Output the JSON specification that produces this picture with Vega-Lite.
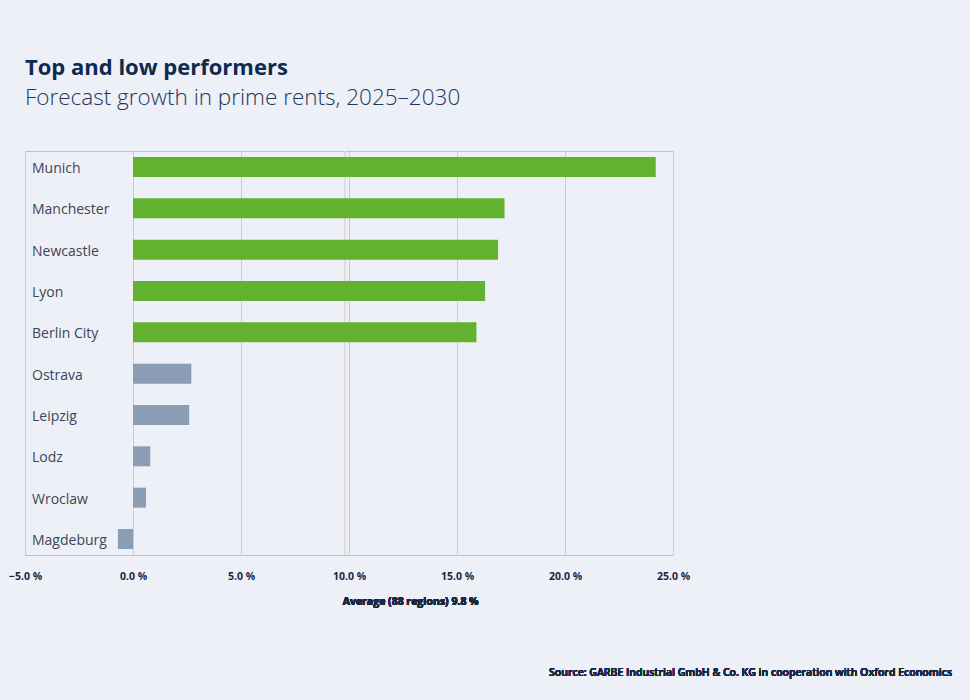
{
  "$schema": "https://vega.github.io/schema/vega-lite/v6.json",
  "width": 648,
  "height": 404,
  "autosize": {"type": "none"},
  "padding": {"left": 25, "top": 151, "right": 297, "bottom": 145},
  "background": "#edf0f7",
  "title": {
    "text": "Top and low performers",
    "subtitle": "Forecast growth in prime rents, 2025–2030",
    "anchor": "start",
    "frame": "group",
    "font": "Open Sans",
    "fontSize": 22,
    "fontWeight": 700,
    "color": "#0e2a4f",
    "subtitleFont": "Open Sans",
    "subtitleFontSize": 22.5,
    "subtitleFontWeight": 300,
    "subtitleColor": "#23375a",
    "subtitlePadding": 7,
    "offset": 40
  },
  "config": {
    "view": {"stroke": "#b9c2cf", "strokeWidth": 1},
    "font": "Open Sans"
  },
  "data": {
    "values": [
      {"city": "Munich", "growth": 24.2, "group": "top"},
      {"city": "Manchester", "growth": 17.2, "group": "top"},
      {"city": "Newcastle", "growth": 16.9, "group": "top"},
      {"city": "Lyon", "growth": 16.3, "group": "top"},
      {"city": "Berlin City", "growth": 15.9, "group": "top"},
      {"city": "Ostrava", "growth": 2.7, "group": "low"},
      {"city": "Leipzig", "growth": 2.6, "group": "low"},
      {"city": "Lodz", "growth": 0.8, "group": "low"},
      {"city": "Wroclaw", "growth": 0.6, "group": "low"},
      {"city": "Magdeburg", "growth": -0.7, "group": "low"}
    ]
  },
  "layer": [
    {
      "mark": {"type": "rule", "color": "#e3d9e0", "strokeWidth": 1.2},
      "encoding": {
        "x": {"datum": 9.8, "type": "quantitative"}
      }
    },
    {
      "mark": {"type": "bar"},
      "encoding": {
        "y": {
          "field": "city",
          "type": "nominal",
          "sort": null,
          "scale": {"paddingInner": 0.516, "paddingOuter": 0.145},
          "axis": null
        },
        "x": {
          "field": "growth",
          "type": "quantitative",
          "scale": {"domain": [-5, 25], "nice": false, "zero": false},
          "axis": {
            "values": [-5, 0, 5, 10, 15, 20, 25],
            "labelExpr": "format(datum.value, '.1f') + ' %'",
            "domain": false,
            "ticks": false,
            "grid": true,
            "gridColor": "#c5ccd7",
            "gridWidth": 1,
            "labelFont": "Open Sans",
            "labelFontWeight": "bold",
            "labelFontSize": 10.5,
            "labelColor": "#1a2744",
            "labelPadding": 16,
            "labelFlush": false,
            "title": null
          }
        },
        "color": {
          "field": "group",
          "type": "nominal",
          "scale": {"domain": ["top", "low"], "range": ["#63b22f", "#8a9db5"]},
          "legend": null
        }
      }
    },
    {
      "mark": {"type": "text", "align": "left", "baseline": "middle", "dx": 7, "dy": 2, "fontSize": 14, "color": "#3d4554", "font": "Open Sans"},
      "encoding": {
        "y": {"field": "city", "type": "nominal", "sort": null},
        "x": {"datum": -5, "type": "quantitative"},
        "text": {"field": "city"}
      }
    },
    {
      "mark": {"type": "text", "align": "left", "baseline": "middle", "dx": -2, "dy": 63, "fontSize": 10.5, "fontWeight": "bold", "color": "#1a2744", "font": "Open Sans"},
      "encoding": {
        "x": {"datum": 9.8, "type": "quantitative"},
        "y": {"datum": "Magdeburg", "type": "nominal"},
        "text": {"value": "Average (88 regions) 9.8 %"}
      }
    },
    {
      "mark": {"type": "text", "align": "right", "baseline": "middle", "dx": 279, "dy": 134, "fontSize": 10.5, "fontWeight": 600, "color": "#1a2744", "font": "Open Sans"},
      "encoding": {
        "x": {"datum": 25, "type": "quantitative"},
        "y": {"datum": "Magdeburg", "type": "nominal"},
        "text": {"value": "Source: GARBE Industrial GmbH & Co. KG in cooperation with Oxford Economics"}
      }
    }
  ]
}
